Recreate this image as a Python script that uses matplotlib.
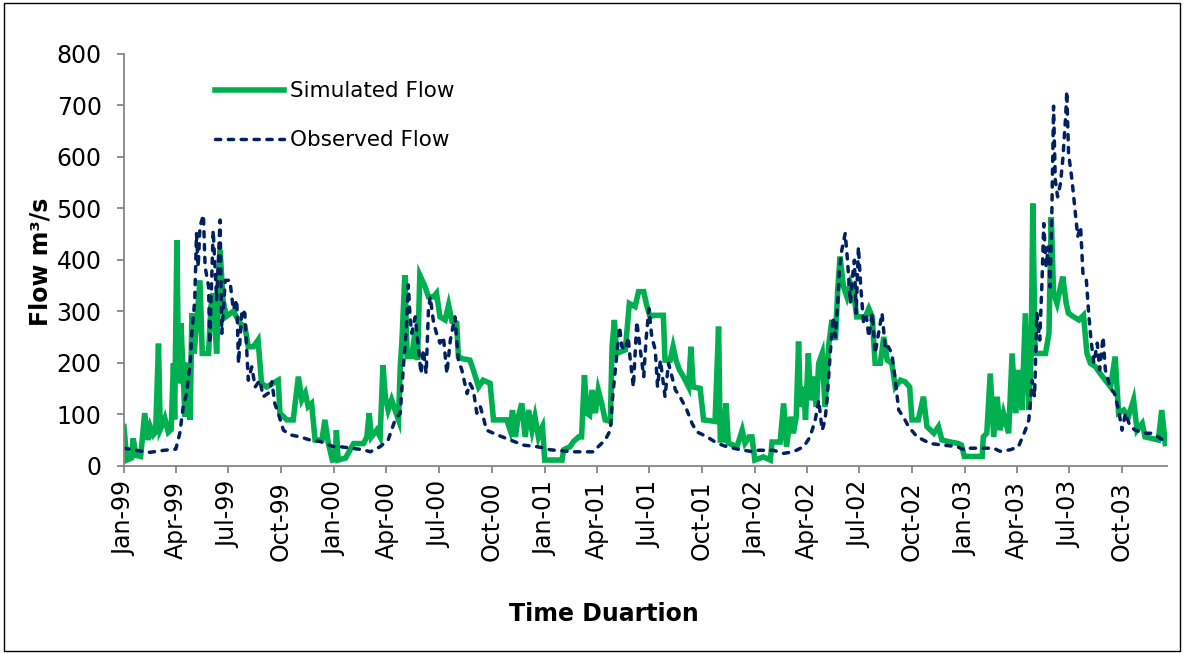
import pandas as pd
import matplotlib
matplotlib.use("Agg")
import matplotlib.pyplot as plt
import matplotlib.dates as mdates
from matplotlib.patches import Rectangle

start = pd.Timestamp("1999-01-01")
end_day = 1812  # last day of record (mid Dec 2003)

# simulated flow, day of record and m3/s
sim_day = [0, 5, 13, 16, 21, 29, 36, 42, 46, 51, 55, 60, 63, 67, 71, 77, 82, 86, 88, 92,
           95, 99, 102, 106, 110, 115, 118, 122, 132, 136, 147, 151, 155, 161, 167, 172, 178, 190, 202, 210,
           216, 225, 233, 239, 248, 259, 268, 271, 283, 294, 303, 309, 315, 320, 326, 332, 344, 349, 355, 362,
           367, 369, 372, 385, 399, 416, 422, 426, 430, 439, 445, 450, 454, 459, 465, 471, 477, 480, 483, 488,
           492, 500, 506, 510, 514, 523, 529, 538, 543, 549, 558, 564, 570, 578, 581, 587, 601, 607, 616, 624,
           636, 642, 665, 671, 675, 680, 685, 691, 697, 703, 709, 714, 720, 724, 727, 731, 746, 761, 764, 775,
           781, 790, 795, 800, 804, 809, 813, 819, 824, 830, 836, 845, 848, 852, 856, 871, 878, 888, 894, 903,
           908, 914, 920, 937, 940, 949, 954, 959, 965, 972, 981, 985, 989, 1001, 1007, 1027, 1033, 1036, 1041, 1046,
           1050, 1065, 1074, 1079, 1086, 1091, 1096, 1111, 1123, 1126, 1140, 1146, 1151, 1158, 1163, 1168, 1172, 1175, 1181, 1184,
           1189, 1193, 1198, 1203, 1207, 1213, 1218, 1224, 1230, 1236, 1240, 1244, 1250, 1256, 1262, 1268, 1273, 1288, 1294, 1300,
           1305, 1314, 1320, 1326, 1334, 1340, 1349, 1357, 1365, 1369, 1380, 1389, 1395, 1407, 1415, 1421, 1436, 1450, 1455, 1460,
           1491, 1493, 1499, 1505, 1511, 1517, 1522, 1528, 1537, 1543, 1549, 1554, 1560, 1566, 1572, 1576, 1579, 1583, 1601, 1607,
           1611, 1615, 1621, 1627, 1631, 1637, 1641, 1650, 1659, 1667, 1673, 1679, 1688, 1696, 1705, 1714, 1722, 1728, 1737, 1745,
           1754, 1760, 1769, 1774, 1797, 1803, 1809]
sim_flow = [76, 11, 15, 53, 20, 18, 102, 50, 75, 60, 65, 237, 70, 80, 92, 65, 70, 199, 90, 438,
            160, 277, 200, 95, 200, 89, 296, 218, 360, 218, 218, 309, 335, 218, 419, 322, 290, 300, 276, 270,
            231, 231, 244, 160, 153, 160, 166, 102, 89, 89, 173, 128, 141, 115, 121, 50, 50, 89, 44, 11,
            12, 69, 11, 15, 43, 43, 56, 102, 56, 69, 56, 195, 134, 108, 128, 108, 89, 192, 244, 370,
            212, 212, 263, 205, 370, 348, 328, 328, 335, 289, 283, 312, 280, 277, 212, 208, 205, 186, 153, 166,
            160, 89, 89, 69, 108, 56, 95, 121, 56, 108, 69, 95, 56, 69, 76, 11, 11, 11, 31, 37,
            47, 56, 56, 176, 102, 98, 147, 102, 147, 121, 89, 86, 231, 283, 218, 225, 315, 309, 338, 338,
            312, 289, 292, 292, 205, 205, 231, 205, 186, 173, 153, 231, 153, 150, 89, 86, 270, 50, 50, 121,
            44, 37, 69, 44, 56, 56, 11, 17, 11, 46, 46, 121, 37, 95, 63, 95, 241, 114, 153, 89,
            218, 127, 173, 114, 199, 218, 114, 231, 283, 244, 341, 406, 348, 328, 354, 335, 289, 289, 305, 289,
            199, 199, 250, 205, 199, 153, 166, 163, 153, 89, 89, 134, 76, 63, 76, 50, 46, 43, 40, 18,
            18, 56, 63, 179, 56, 134, 69, 102, 63, 218, 102, 186, 108, 296, 108, 212, 509, 218, 218, 257,
            483, 335, 315, 347, 367, 315, 296, 289, 283, 292, 218, 199, 192, 179, 166, 153, 212, 102, 108, 95,
            128, 69, 82, 56, 50, 108, 43]

# observed flow, day of record and m3/s
obs_day = [0, 20, 45, 70, 90, 97, 103, 109, 115, 118, 123, 126, 129, 132, 138, 141, 147, 149, 155, 161,
           167, 170, 176, 184, 190, 196, 199, 205, 210, 216, 222, 228, 236, 242, 251, 257, 262, 268, 277, 289,
           306, 323, 341, 364, 375, 416, 428, 445, 459, 471, 480, 485, 490, 494, 497, 500, 506, 512, 516, 520,
           525, 529, 532, 538, 543, 549, 555, 561, 567, 575, 581, 587, 596, 601, 607, 613, 619, 624, 630, 648,
           671, 694, 717, 732, 740, 781, 816, 824, 836, 845, 849, 853, 857, 861, 865, 871, 876, 879, 885, 891,
           897, 903, 907, 912, 917, 923, 927, 932, 940, 946, 952, 958, 966, 978, 987, 995, 1013, 1030, 1047, 1071,
           1094, 1100, 1128, 1146, 1163, 1181, 1192, 1201, 1207, 1213, 1218, 1222, 1227, 1232, 1236, 1240, 1243, 1247, 1253, 1257,
           1262, 1265, 1269, 1272, 1276, 1280, 1285, 1290, 1294, 1300, 1305, 1311, 1317, 1323, 1328, 1334, 1340, 1346, 1354, 1363,
           1378, 1401, 1424, 1447, 1462, 1470, 1511, 1522, 1540, 1554, 1566, 1572, 1578, 1582, 1586, 1591, 1595, 1598, 1602, 1606,
           1609, 1612, 1615, 1618, 1622, 1627, 1631, 1636, 1638, 1641, 1647, 1653, 1657, 1662, 1666, 1672, 1676, 1680, 1685, 1691,
           1695, 1701, 1705, 1713, 1721, 1728, 1734, 1740, 1748, 1757, 1772, 1786, 1801, 1812]
obs_flow = [34, 30, 26, 30, 32, 63, 115, 141, 199, 257, 322, 451, 386, 464, 487, 386, 348, 237, 457, 322,
            477, 257, 360, 360, 303, 322, 199, 303, 296, 166, 192, 153, 166, 134, 141, 163, 121, 102, 69, 60,
            56, 50, 47, 37, 37, 31, 27, 37, 50, 89, 102, 186, 257, 351, 289, 257, 289, 225, 179, 225,
            179, 302, 328, 277, 257, 238, 250, 179, 244, 289, 205, 186, 140, 160, 147, 102, 115, 95, 69, 60,
            50, 40, 37, 34, 31, 27, 27, 37, 50, 69, 134, 179, 225, 270, 231, 225, 250, 212, 153, 280,
            225, 173, 244, 305, 250, 225, 153, 205, 134, 199, 173, 147, 134, 108, 82, 66, 56, 44, 37, 31,
            27, 30, 30, 24, 27, 37, 56, 89, 127, 69, 89, 134, 218, 289, 250, 315, 380, 418, 451, 399,
            315, 360, 399, 296, 425, 348, 276, 289, 250, 296, 218, 257, 296, 225, 231, 218, 166, 108, 95, 76,
            56, 43, 40, 37, 30, 34, 34, 28, 31, 37, 69, 89, 166, 134, 296, 244, 360, 470, 386, 425,
            347, 490, 698, 555, 522, 548, 594, 678, 727, 607, 555, 490, 445, 464, 374, 360, 296, 244, 199, 238,
            186, 250, 186, 153, 140, 108, 69, 102, 76, 69, 63, 63, 53, 43]

sim_dates = start + pd.to_timedelta(sim_day, unit="D")
obs_dates = start + pd.to_timedelta(obs_day, unit="D")

grey = "#868686"

fig = plt.figure(figsize=(11.84, 6.53), dpi=100)
ax = fig.add_axes([0.1047, 0.2868, 0.8809, 0.6310])

ax.plot(sim_dates, sim_flow, color="#00B050", lw=4.0, solid_joinstyle="miter",
        label="Simulated Flow")
ax.plot(obs_dates, obs_flow, color="#002060", lw=2.5, dashes=(1.5, 2.2),
        dash_capstyle="round", label="Observed Flow")

ax.set_xlim(start, start + pd.Timedelta(days=end_day))
ax.set_ylim(0, 800)
ax.set_yticks(range(0, 801, 100))

ax.xaxis.set_major_locator(mdates.MonthLocator(bymonth=[1, 4, 7, 10]))
ax.xaxis.set_major_formatter(mdates.DateFormatter("%b-%y"))
plt.setp(ax.get_xticklabels(), rotation=90)

for s in ["top", "right"]:
    ax.spines[s].set_visible(False)
for s in ["left", "bottom"]:
    ax.spines[s].set_color(grey)
    ax.spines[s].set_linewidth(1.3)
ax.tick_params(direction="out", length=5, width=1.3, color=grey,
               labelsize=17, labelcolor="black")
ax.tick_params(axis="y", pad=11)
ax.tick_params(axis="x", pad=6)

ax.set_ylabel("Flow m³/s", fontsize=17, fontweight="bold")
ax.yaxis.set_label_coords(-0.08, 0.494)
ax.yaxis.label.set_va("center")
ax.set_xlabel("Time Duartion", fontsize=17, fontweight="bold")
ax.xaxis.set_label_coords(0.46, -0.36)
ax.xaxis.label.set_va("center")

ax.legend(loc="upper left", bbox_to_anchor=(0.0872, 0.933), frameon=False,
          fontsize=15.5, handlelength=3.2, handletextpad=0.3, labelspacing=1.35,
          borderpad=0, borderaxespad=0)

fig.patches.append(Rectangle((0.003, 0.003), 0.994, 0.992, transform=fig.transFigure,
                             fill=False, edgecolor="black", lw=1.0))

fig.savefig("out.png", dpi=100)
